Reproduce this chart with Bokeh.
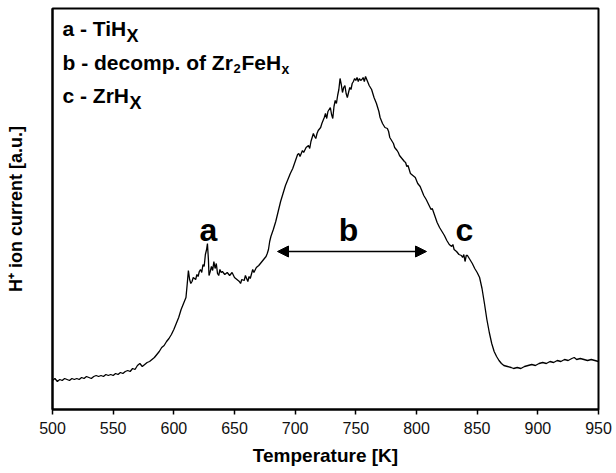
from bokeh.plotting import figure
from bokeh.models import Range1d, Label, Arrow, NormalHead, FixedTicker
from bokeh.embed import file_html
from bokeh.resources import INLINE

temperature = [
    500, 502, 504, 506, 508, 510, 512, 514, 516, 518, 520, 522, 524, 526, 528, 530,
    532, 534, 536, 538, 540, 542, 544, 546, 548, 550, 552, 554, 556, 558, 560, 562,
    564, 566, 568, 570, 572, 574, 576, 578, 580, 582, 584, 586, 588, 590, 592, 594,
    596, 598, 600, 602, 604, 606, 608, 610, 611, 612, 613, 614, 615, 616, 618, 619,
    620, 621, 622, 623, 624, 625, 626, 627, 627.7, 628.5, 629, 630, 631, 632, 633, 634,
    635, 636, 637, 638, 639, 640, 642, 644, 646, 648, 650, 652, 654, 655, 656, 658,
    659, 660, 661, 662, 663, 665, 666, 668, 670, 672, 674, 676, 677, 678, 679, 680,
    682, 684, 686, 688, 690, 692, 694, 696, 698, 700, 702, 703, 704, 706, 707, 709,
    711, 712, 713, 715, 716, 717, 718, 719, 721, 722, 724, 725, 726, 727, 729, 730,
    731, 732, 733, 734, 735, 736, 737, 738, 739, 740, 741, 742, 743, 744, 745, 746,
    747, 748, 749, 750, 751, 752, 753, 754, 755, 756, 757, 758, 759, 760, 761, 763,
    764, 765, 767, 768, 769, 770, 772, 773, 774, 776, 777, 778, 779, 781, 782, 784,
    785, 786, 788, 790, 791, 792, 793, 795, 797, 799, 801, 803, 805, 806, 808, 810,
    812, 813, 815, 817, 819, 821, 823, 825, 827, 829, 830, 831, 833, 835, 837, 838,
    839, 840, 841, 842, 844, 846, 848, 850, 852, 854, 856, 858, 860, 862, 864, 866,
    868, 870, 872, 875, 878, 880, 883, 886, 889, 892, 895, 898, 901, 904, 907, 910,
    913, 916, 919, 922, 925, 928, 930, 932, 935, 938, 941, 944, 947, 950,
]
ion_current = [
    29, 31, 28, 30, 29, 31, 30, 29, 31, 30, 31, 30, 32, 31, 33, 32,
    31, 33, 34, 33, 34, 33, 35, 34, 35, 34, 36, 35, 37, 36, 38, 39,
    38, 41, 40, 44, 46, 43, 45, 47, 48, 50, 52, 55, 58, 62, 64, 68,
    71, 75, 80, 86, 92, 100, 106, 112, 125, 139, 130, 126, 128, 132, 130, 135,
    133, 138, 140, 137, 145, 143, 155, 160, 166, 150, 134, 138, 143, 139, 148, 141,
    146, 136, 134, 140, 137, 138, 135, 137, 134, 137, 132, 130, 128, 126, 130, 129,
    134, 131, 128, 133, 131, 140, 137, 142, 144, 147, 150, 153, 156, 160, 168, 173,
    180, 188, 198, 208, 216, 224, 230, 236, 241, 248, 255, 256, 253, 259, 257, 262,
    264, 261, 268, 276, 273, 271, 276, 279, 282, 286, 292, 296, 291, 298, 302, 295,
    291, 303, 309, 306, 314, 320, 331, 325, 317, 322, 324, 316, 312, 317, 322, 320,
    326, 328, 331, 329, 332, 328, 331, 329, 330, 332, 328, 333, 330, 327, 324, 320,
    316, 312, 306, 302, 298, 292, 286, 284, 282, 281, 278, 272, 270, 266, 262, 259,
    257, 254, 251, 248, 247, 243, 244, 236, 234, 232, 226, 223, 217, 214, 210, 205,
    200, 201, 194, 187, 182, 178, 174, 169, 165, 163, 165, 160, 158, 155, 154, 152,
    155, 148, 154, 154, 150, 146, 141, 137, 132, 121, 106, 90, 77, 66, 58, 53,
    49, 46, 44, 43, 42, 41, 42, 41, 43, 44, 45, 44, 46, 47, 46, 48,
    47, 49, 48, 50, 49, 51, 52, 50, 51, 50, 49, 50, 49, 48,
]
x_ticks = [500, 550, 600, 650, 700, 750, 800, 850, 900, 950]

FONT = "Liberation Sans"

p = figure(frame_width=546, frame_height=401, output_backend="svg", toolbar_location=None,
           x_range=Range1d(500, 950), y_range=Range1d(0, 401),
           min_border_left=52, min_border_right=18, min_border_top=8, min_border_bottom=64)
p.background_fill_color = "white"
p.border_fill_color = "white"
p.grid.visible = False
p.outline_line_color = "black"
p.outline_line_width = 2

p.line(temperature, ion_current, line_color="black", line_width=1.3)

# axes
p.xaxis.ticker = FixedTicker(ticks=x_ticks)
p.xaxis.minor_tick_line_color = None
p.xaxis.major_tick_in = 0
p.xaxis.major_tick_out = 5
p.xaxis.major_tick_line_width = 1.5
p.xaxis.major_tick_line_color = "black"
p.xaxis.axis_line_width = 2
p.xaxis.axis_line_color = "black"
p.xaxis.major_label_text_font = FONT
p.xaxis.major_label_text_font_size = "16px"
p.xaxis.major_label_text_color = "#111111"
p.xaxis.major_label_standoff = 7
p.xaxis.axis_label = "Temperature [K]"
p.xaxis.axis_label_text_font = FONT
p.xaxis.axis_label_text_font_size = "19px"
p.xaxis.axis_label_text_font_style = "bold"
p.xaxis.axis_label_text_color = "black"
p.xaxis.axis_label_standoff = 8

p.yaxis.ticker = FixedTicker(ticks=[])
p.yaxis.minor_tick_line_color = None
p.yaxis.major_tick_in = 0
p.yaxis.major_tick_out = 0
p.yaxis.axis_line_width = 2
p.yaxis.axis_line_color = "black"
p.yaxis.axis_label = "H\u207a ion current [a.u.]"
p.yaxis.axis_label_text_font = FONT
p.yaxis.axis_label_text_font_size = "18px"
p.yaxis.axis_label_text_font_style = "bold"
p.yaxis.axis_label_text_color = "black"
p.yaxis.axis_label_standoff = 27


def dx(px):
    return 500 + (px - 52) * 450 / 546


def dy(py):
    return 409 - py


def lab(px, py, text, size, align="left"):
    p.add_layout(Label(x=dx(px), y=dy(py), text=text, text_font=FONT,
                       text_font_size=size, text_font_style="bold",
                       text_align=align, text_baseline="alphabetic",
                       text_color="black"))


# legend-like text block (y given slightly above the visual baseline)
lab(62, 28, "a - TiH", "21px")
lab(126, 35, "X", "18px")
lab(62, 62, "b - decomp. of Zr", "21px")
lab(233, 68, "2", "13px")
lab(241, 62, "FeH", "21px")
lab(281, 68, "x", "14px")
lab(62, 95, "c - ZrH", "21px")
lab(129, 102, "X", "18px")

# peak labels
lab(208, 229, "a", "32px", "center")
lab(348, 229, "b", "32px", "center")
lab(464, 229, "c", "32px", "center")

p.add_layout(Arrow(start=NormalHead(size=11, fill_color="black", line_color="black"),
                   end=NormalHead(size=11, fill_color="black", line_color="black"),
                   x_start=dx(277), y_start=dy(251), x_end=dx(426), y_end=dy(251),
                   line_width=1.5, line_color="black"))

open("out.html", "w").write(file_html(p, INLINE))
